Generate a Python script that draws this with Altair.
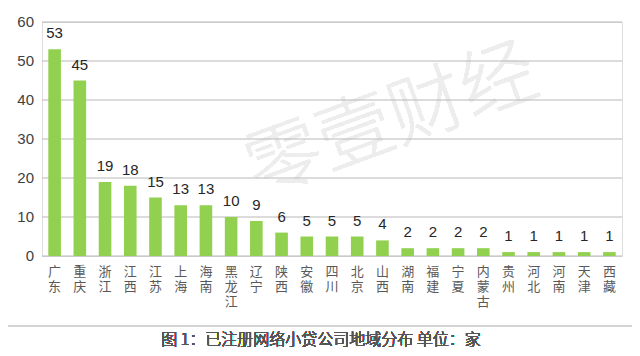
import altair as alt
import pandas as pd

regions = ["广东", "重庆", "浙江", "江西", "江苏", "上海", "海南", "黑龙江", "辽宁", "陕西",
           "安徽", "四川", "北京", "山西", "湖南", "福建", "宁夏", "内蒙古", "贵州", "河北",
           "河南", "天津", "西藏"]
counts = [53, 45, 19, 18, 15, 13, 13, 10, 9, 6, 5, 5, 5, 4, 2, 2, 2, 2, 1, 1, 1, 1, 1]
y_ticks = [0, 10, 20, 30, 40, 50, 60]
caption = "图 1：已注册网络小贷公司地域分布 单位：家"
watermark = "零壹财经"

df = pd.DataFrame({"region": regions, "count": counts})
tick_df = pd.DataFrame({"tick": y_ticks})

W, H = 580, 234
FONT = "Noto Sans CJK SC"

yscale = alt.Scale(domain=[0, 60], nice=False)

x = alt.X("region:N", sort=regions, title=None,
          scale=alt.Scale(paddingInner=0.5, paddingOuter=0.25),
          axis=alt.Axis(labelAngle=0, labelExpr="split(datum.label, '')",
                        labelLineHeight=15, labelFontSize=13, labelFont=FONT,
                        labelFontWeight=400,
                        labelColor="#595959", labelPadding=9, labelBaseline="top",
                        labelOverlap=False,
                        ticks=False, domain=False, grid=False))
y = alt.Y("count:Q", title=None, scale=yscale, axis=None)

border = alt.Chart(df).mark_rect(fill=None, stroke="#d4d4d4", strokeWidth=1.5).encode(
    x=alt.value(-38), x2=alt.value(595), y=alt.value(-17), y2=alt.value(304))

wm = alt.Chart(df).mark_text(fontSize=76, font=FONT, angle=340, color="#ededed",
                             fontWeight=300).encode(
    text=alt.value(watermark), x=alt.value(350), y=alt.value(100))

grid = alt.Chart(tick_df).mark_rule(color="#b8b8b8", strokeWidth=1).encode(
    y=alt.Y("tick:Q", scale=yscale, axis=None), x=alt.value(0), x2=alt.value(W))

ylabels = alt.Chart(tick_df).mark_text(fontSize=15, font="Liberation Sans",
                                       color="#404040", align="right",
                                       baseline="middle").encode(
    y=alt.Y("tick:Q", scale=yscale, axis=None), x=alt.value(-8), text="tick:Q")

bars = alt.Chart(df).mark_bar(color="#92D050").encode(x=x, y=y)

labels = alt.Chart(df).mark_text(fontSize=15, font="Liberation Sans", color="#262626",
                                 baseline="middle", dy=-16).encode(
    x=x, y=y, text="count:Q")

cap = alt.Chart(df).mark_text(fontSize=16, font=FONT, fontWeight=300,
                              color="#555555").encode(
    text=alt.value(caption), x=alt.value(279), y=alt.value(318))

chart = alt.layer(border, wm, grid, ylabels, bars, labels, cap).properties(
    width=W, height=H,
    autosize=alt.AutoSizeParams(type="none"),
    padding={"left": 34, "top": 14, "right": 10, "bottom": 100},
).configure_view(stroke=None).configure(background="white")

chart.save("out.html", embed_options={"renderer": "svg", "actions": False})
